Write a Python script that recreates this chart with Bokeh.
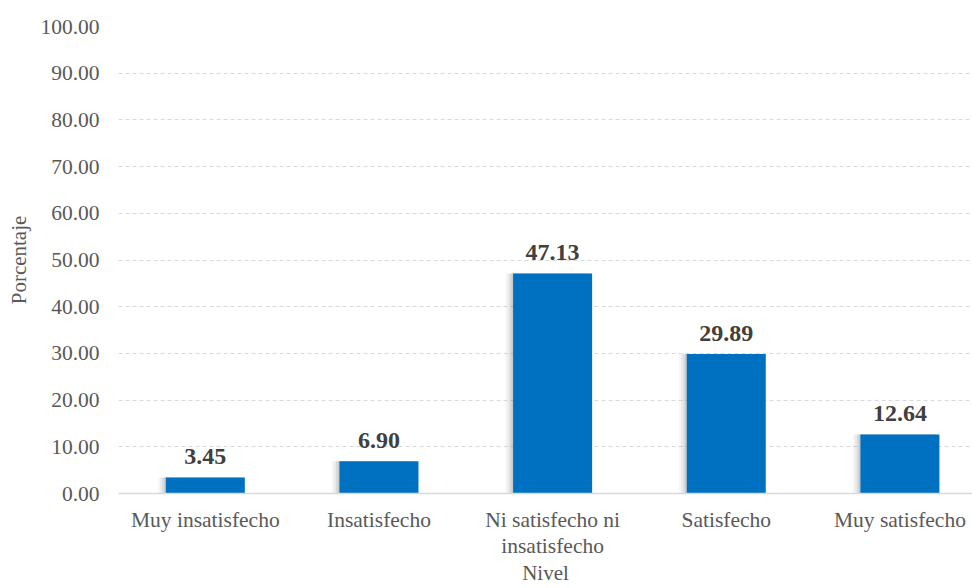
from bokeh.plotting import figure
from bokeh.models import ColumnDataSource, Range1d, NumeralTickFormatter, FixedTicker, LabelSet
from bokeh.transform import dodge
from bokeh.embed import file_html
from bokeh.resources import INLINE

# Satisfaction levels and their share of responses (%)
categories = ["Muy insatisfecho", "Insatisfecho", "Ni satisfecho ni\ninsatisfecho",
              "Satisfecho", "Muy satisfecho"]
percentages = [3.45, 6.90, 47.13, 29.89, 12.64]
y_ticks = [0, 10, 20, 30, 40, 50, 60, 70, 80, 90, 100]

positions = [i + 0.5 for i in range(len(categories))]
source = ColumnDataSource(dict(
    x=positions,
    top=percentages,
    label=[f"{v:.2f}" for v in percentages],
))

SERIF = "Liberation Serif"
TEXT = "#595959"

p = figure(width=972, height=588, output_backend="svg", toolbar_location=None,
           x_range=Range1d(0, 4.918), y_range=Range1d(0, 100),
           min_border_left=118, min_border_right=0, min_border_top=26,
           min_border_bottom=94)
p.outline_line_color = None
p.background_fill_color = "white"
p.border_fill_color = "white"

# soft shadow behind each bar
for off, a in [(-0.045, 0.07), (-0.032, 0.10), (-0.020, 0.14), (-0.010, 0.18)]:
    p.vbar(x=dodge("x", off, range=p.x_range), top="top", bottom=0, width=0.455,
           source=source, fill_color="#7f7f7f", fill_alpha=a, line_color=None)

p.vbar(x="x", top="top", bottom=0, width=0.455, source=source,
       fill_color="#0070C0", line_color=None)

labels = LabelSet(x="x", y="top", text="label", source=source, text_align="center",
                  text_baseline="alphabetic", y_offset=13, text_font=SERIF,
                  text_font_size="24px", text_font_style="bold", text_color="#404040")
p.add_layout(labels)

# grid
p.xgrid.grid_line_color = None
p.ygrid.grid_line_color = "#D9D9D9"
p.ygrid.grid_line_dash = "4 3"
p.ygrid.ticker = FixedTicker(ticks=y_ticks)

# y axis
p.yaxis.ticker = FixedTicker(ticks=y_ticks)
p.yaxis.formatter = NumeralTickFormatter(format="0.00")
p.yaxis.axis_line_color = None
p.yaxis.major_tick_line_color = None
p.yaxis.minor_tick_line_color = None
p.yaxis.major_tick_out = 0
p.yaxis.major_label_standoff = 19
p.yaxis.major_label_text_font = SERIF
p.yaxis.major_label_text_font_size = "21.5px"
p.yaxis.major_label_text_color = TEXT
p.yaxis.axis_label = "Porcentaje"
p.yaxis.axis_label_text_font = SERIF
p.yaxis.axis_label_text_font_size = "21px"
p.yaxis.axis_label_text_font_style = "normal"
p.yaxis.axis_label_text_color = TEXT
p.yaxis.axis_label_standoff = 6

# x axis
p.xaxis.ticker = FixedTicker(ticks=positions)
p.xaxis.major_label_overrides = {pos: name for pos, name in zip(positions, categories)}
p.xaxis.axis_line_color = "#D9D9D9"
p.xaxis.axis_line_width = 1.5
p.xaxis.major_tick_line_color = None
p.xaxis.minor_tick_line_color = None
p.xaxis.major_tick_out = 0
p.xaxis.major_label_standoff = 14
p.xaxis.major_label_text_font = SERIF
p.xaxis.major_label_text_font_size = "21.5px"
p.xaxis.major_label_text_line_height = 1.12
p.xaxis.major_label_text_color = TEXT
p.xaxis.axis_label = "Nivel"
p.xaxis.axis_label_text_font = SERIF
p.xaxis.axis_label_text_font_size = "21px"
p.xaxis.axis_label_text_line_height = 1.0
p.xaxis.axis_label_text_font_style = "normal"
p.xaxis.axis_label_text_color = TEXT
p.xaxis.axis_label_standoff = 0

open("out.html", "w").write(file_html(p, INLINE))
